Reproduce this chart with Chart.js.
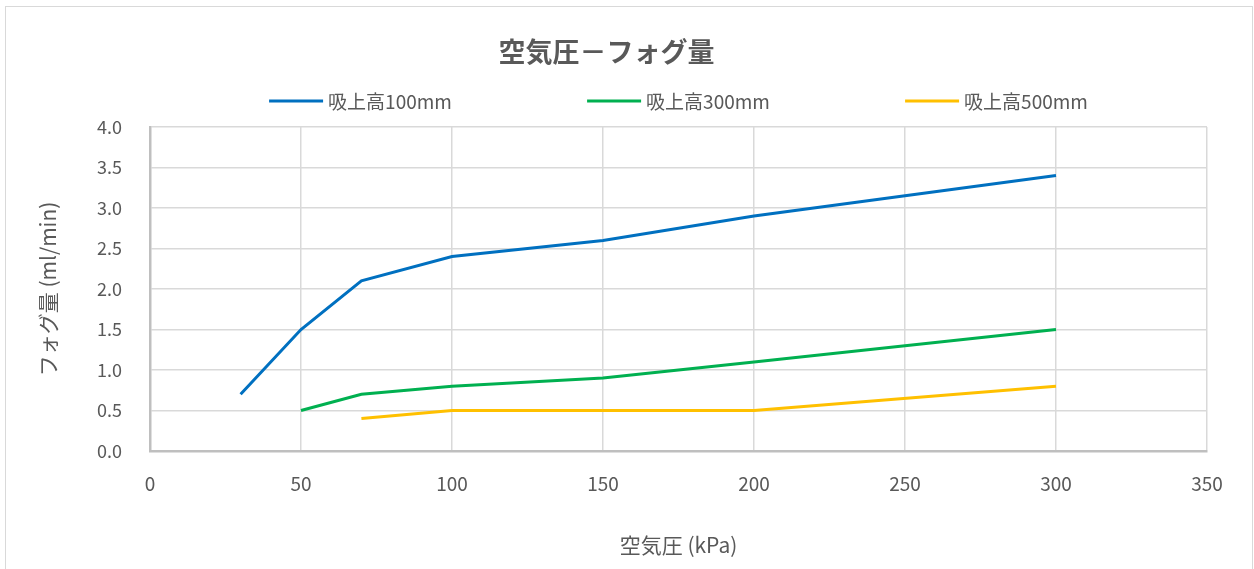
<!DOCTYPE html>
<html>
<head>
<meta charset="utf-8">
<script src="https://cdn.jsdelivr.net/npm/chart.js@4.4.1/dist/chart.umd.min.js"></script>
<style>
  html, body { margin: 0; padding: 0; background: #fff; }
  #frame {
    position: absolute; left: 5px; top: 6px;
    width: 1246px; height: 563px;
    border: 1px solid #d9d9d9;
    background: #fff;
  }
</style>
</head>
<body>
<div id="frame"><canvas id="grafico" width="1246" height="563"></canvas></div>
<script>
// ====== DATA ======
const seriesNames = ["吸上高100mm", "吸上高300mm", "吸上高500mm"];
const seriesColors = ["#0070C0", "#00B050", "#FFC000"];

const x100 = [30, 50, 70, 100, 150, 200, 300];
const y100 = [0.7, 1.5, 2.1, 2.4, 2.6, 2.9, 3.4];

const x300 = [50, 70, 100, 150, 200, 300];
const y300 = [0.5, 0.7, 0.8, 0.9, 1.1, 1.5];

const x500 = [70, 100, 150, 200, 300];
const y500 = [0.4, 0.5, 0.5, 0.5, 0.8];

const chartTitle = "空気圧－フォグ量";
const xTitle = "空気圧 (kPa)";
const yTitle = "フォグ量 (ml/min)";

const TEXT = "#595959";
const FONT = "'Noto Sans CJK JP', 'Noto Sans', sans-serif";

function pontos(xs, ys) {
  return xs.map((x, i) => ({ x, y: ys[i] }));
}

const seriesData = [pontos(x100, y100), pontos(x300, y300), pontos(x500, y500)];

// ====== LEGENDA (desenhada por cima, estilo Excel) ======
const legendaExcel = {
  id: "legendaExcel",
  afterDraw(chart) {
    const c = chart.ctx;
    const area = chart.chartArea;
    const pitch = 318, lineLen = 54, gap = 5;
    c.save();
    c.font = "19px " + FONT;
    c.textBaseline = "middle";
    const widths = chart.data.datasets.map(d => lineLen + gap + c.measureText(d.label).width);
    const total = pitch * (widths.length - 1) + widths[widths.length - 1];
    let x = (area.left + area.right) / 2 - total / 2;
    const y = 94;
    chart.data.datasets.forEach((d) => {
      c.strokeStyle = d.borderColor;
      c.lineWidth = 3;
      c.beginPath();
      c.moveTo(x, y);
      c.lineTo(x + lineLen, y);
      c.stroke();
      c.fillStyle = TEXT;
      c.fillText(d.label, x + lineLen + gap, y + 1);
      x += pitch;
    });
    c.restore();
  }
};

const ctx = document.getElementById("grafico").getContext("2d");

new Chart(ctx, {
  type: "line",
  data: {
    datasets: seriesNames.map((nome, i) => ({
      label: nome,
      data: seriesData[i],
      borderColor: seriesColors[i],
      backgroundColor: seriesColors[i],
      borderWidth: 3,
      pointRadius: 0,
      tension: 0,
      fill: false
    }))
  },
  options: {
    responsive: false,
    animation: false,
    layout: { padding: { left: 0, right: 45, top: 0, bottom: 0 } },
    plugins: {
      legend: { display: false },
      tooltip: { enabled: false },
      title: {
        display: true,
        text: chartTitle,
        color: TEXT,
        font: { family: FONT, size: 27, weight: "bold" },
        padding: { top: 28.8, bottom: 58.8 }
      }
    },
    scales: {
      x: {
        type: "linear",
        min: 0,
        max: 350,
        ticks: {
          stepSize: 50,
          color: TEXT,
          padding: 21,
          font: { family: FONT, size: 19 }
        },
        grid: { color: "#d9d9d9", lineWidth: 1.5, drawTicks: false },
        border: { color: "#bfbfbf", width: 2.5 },
        title: {
          display: true,
          text: xTitle,
          color: TEXT,
          font: { family: FONT, size: 21 },
          padding: { top: 0, bottom: 12 }
        },
        afterFit(scale) { scale.height = 119; }
      },
      y: {
        min: 0,
        max: 4,
        ticks: {
          stepSize: 0.5,
          color: TEXT,
          padding: 28,
          font: { family: FONT, size: 18 },
          callback: (v) => v.toFixed(1)
        },
        grid: { color: "#d9d9d9", lineWidth: 1.5, drawTicks: false },
        border: { color: "#bfbfbf", width: 2.5 },
        title: {
          display: true,
          text: yTitle,
          color: TEXT,
          font: { family: FONT, size: 21 },
          padding: { top: 29.4, bottom: 0 }
        },
        afterFit(scale) { scale.width = 144; }
      }
    }
  },
  plugins: [legendaExcel]
});
</script>
</body>
</html>
